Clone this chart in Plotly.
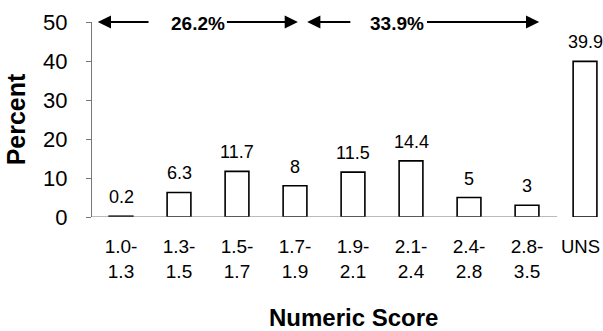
import plotly.graph_objects as go

categories = ["1.0-<br>1.3", "1.3-<br>1.5", "1.5-<br>1.7", "1.7-<br>1.9", "1.9-<br>2.1",
              "2.1-<br>2.4", "2.4-<br>2.8", "2.8-<br>3.5", "UNS"]
percent = [0.2, 6.3, 11.7, 8, 11.5, 14.4, 5, 3, 39.9]
value_labels = ["0.2", "6.3", "11.7", "8", "11.5", "14.4", "5", "3", "39.9"]
group_labels = ["26.2%", "33.9%"]

FONT = "Liberation Sans, Arial, sans-serif"
n = len(categories)

fig = go.Figure()
fig.add_trace(go.Bar(
    x=list(range(n)), y=percent, width=0.41,
    marker=dict(color="white", line=dict(color="black", width=1.6)),
    hoverinfo="skip",
))

# value labels above bars
for i, (v, t) in enumerate(zip(percent, value_labels)):
    fig.add_annotation(x=i, y=v, text=t, showarrow=False, yanchor="bottom",
                       yshift=7, font=dict(size=18, color="black", family=FONT))

# group arrows at top
arrows = [
    # (left tip, left line end, text center, text right, right tip, label)
    (-0.40, 0.50, 1.32, 1.80, 3.05, group_labels[0]),
    (3.21, 3.98, 4.75, 5.25, 7.21, group_labels[1]),
]
for lt, le, tc, tr, rt, lab in arrows:
    fig.add_annotation(x=lt, y=50, ax=le, ay=50, axref="x", ayref="y", text="",
                       showarrow=True, arrowhead=2, arrowsize=1.2, arrowwidth=2.2,
                       arrowcolor="black")
    fig.add_annotation(x=rt, y=50, ax=tr, ay=50, axref="x", ayref="y", text="",
                       showarrow=True, arrowhead=2, arrowsize=1.2, arrowwidth=2.2,
                       arrowcolor="black")
    fig.add_annotation(x=tc, y=50, text="<b>%s</b>" % lab, showarrow=False,
                       yshift=-1, font=dict(size=19, color="black", family=FONT))

# x axis line (stops before the UNS bar)
fig.add_shape(type="line", xref="x", yref="y", x0=-0.5, x1=7.52, y0=0, y1=0,
              line=dict(color="#777", width=1))

# last category label (kept inside the page edge)
fig.add_annotation(xref="paper", yref="paper", x=1, y=-0.149, xanchor="right",
                   yanchor="middle", xshift=-1, text=categories[-1], showarrow=False,
                   font=dict(size=18.5, color="black", family=FONT))

# axis titles
fig.add_annotation(xref="paper", yref="paper", x=0.511, y=-0.513, xanchor="center",
                   yanchor="middle", text="<b>Numeric Score</b>",
                   showarrow=False, font=dict(size=24, color="black", family=FONT))
fig.add_annotation(xref="paper", yref="paper", x=-0.149, y=0.5, xanchor="center",
                   yanchor="middle", text="<b>Percent</b>",
                   textangle=-90, showarrow=False,
                   font=dict(size=25, color="black", family=FONT))

fig.update_xaxes(
    type="linear", range=[-0.5, 8.31], automargin=False,
    tickmode="array", tickvals=list(range(n - 1)), ticktext=categories[:-1],
    ticks="", showline=False, showgrid=False, zeroline=False,
    tickfont=dict(size=19, color="black", family=FONT),
    ticklabelstandoff=16, ticklabeloverflow="allow",
)
# boundary ticks
for b in range(n - 1):
    fig.add_shape(type="line", xref="x", yref="y", x0=b + 0.5, x1=b + 0.5, y0=0, y1=-1.5,
                  line=dict(color="#777", width=1))

fig.update_yaxes(
    range=[0, 50], tickvals=[0, 10, 20, 30, 40, 50], ticks="outside", ticklen=5,
    tickcolor="#777", showline=True, linecolor="#777", linewidth=1,
    showgrid=False, zeroline=False, automargin=False,
    tickfont=dict(size=22, color="black", family=FONT),
    ticklabelstandoff=14,
)

fig.update_layout(
    width=603, height=331,
    margin=dict(l=92, r=0, t=22, b=114),
    plot_bgcolor="white", paper_bgcolor="white",
    showlegend=False,
    font=dict(family=FONT, color="black"),
)

fig.write_html("out.html", config={"displayModeBar": False},
               post_script="document.body.style.margin='0px';")
